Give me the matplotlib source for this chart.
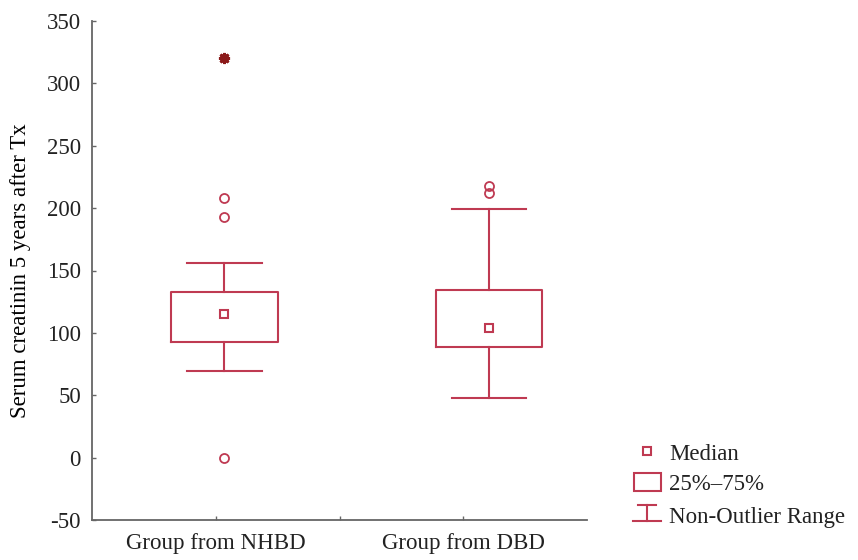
import matplotlib.pyplot as plt
from matplotlib.lines import Line2D
from matplotlib.patches import Rectangle

plt.rcParams["font.family"] = ["Liberation Serif", "DejaVu Serif"]
plt.rcParams["axes.unicode_minus"] = False

# data
groups = ["Group from NHBD", "Group from DBD"]
positions = [1.07, 3.21]
q1 = [93, 89]
q3 = [133, 134]
medians = [115, 104]
whisker_low = [69.5, 47.5]
whisker_high = [156, 199]
outliers = [[208, 193, 0], [218, 212]]
extremes = [[320], []]

red = "#bf3a52"
dark = "#8b1a1a"

fig = plt.figure(figsize=(8.58, 5.6), dpi=100)
ax = fig.add_axes([92 / 858, 40 / 560, 495 / 858, 499 / 560])

stats = []
for i in range(len(groups)):
    stats.append(dict(med=medians[i], q1=q1[i], q3=q3[i],
                      whislo=whisker_low[i], whishi=whisker_high[i],
                      fliers=outliers[i], label=groups[i]))

ax.bxp(stats, positions=positions, widths=0.86, capwidths=0.6,
       showfliers=True, manage_ticks=False,
       boxprops=dict(color=red, linewidth=1.5),
       whiskerprops=dict(color=red, linewidth=1.5),
       capprops=dict(color=red, linewidth=1.5),
       medianprops=dict(linewidth=0),
       flierprops=dict(marker="o", markerfacecolor="none",
                       markeredgecolor=red, markersize=6.5, markeredgewidth=1.3))

# median squares
ax.plot(positions, medians, linestyle="none", marker="s", markersize=6.3,
        markerfacecolor="white", markeredgecolor=red, markeredgewidth=1.5)

# extreme values
for p, ex in zip(positions, extremes):
    if ex:
        ax.plot([p] * len(ex), ex, linestyle="none", marker=(8, 2, 0),
                markersize=8, markeredgecolor=dark, markeredgewidth=2)

ax.set_xlim(0, 4)
ax.set_ylim(-50, 350)
ax.set_yticks(range(-50, 351, 50))
ax.set_xticks([1, 2, 3])
ax.set_xticklabels([groups[0], "", groups[1]])
ax.set_ylabel("Serum creatinin 5 years after Tx", fontsize=16.5, labelpad=11)

for s in ["top", "right"]:
    ax.spines[s].set_visible(False)
for s in ["left", "bottom"]:
    ax.spines[s].set_color("#666666")
    ax.spines[s].set_linewidth(1.3)
ax.tick_params(direction="in", length=3, width=1, color="#666666",
               labelsize=16.5, labelcolor="#222222")
ax.tick_params(axis="x", pad=9)
ax.tick_params(axis="y", pad=8)

# legend drawn in pixel coordinates of the figure
def fx(px):
    return px / 858

def fy(py):
    return 1 - py / 560

fig.add_artist(Line2D([fx(647)], [fy(451)], marker="s", markersize=6.3,
                      markerfacecolor="white", markeredgecolor=red,
                      markeredgewidth=1.5, linestyle="none"))
fig.add_artist(Rectangle((fx(633.5), fy(491)), fx(27.5), 18 / 560,
                         facecolor="none", edgecolor=red, linewidth=1.5))
fig.add_artist(Line2D([fx(638), fx(656)], [fy(505), fy(505)], color=red, linewidth=1.5))
fig.add_artist(Line2D([fx(647), fx(647)], [fy(505), fy(521)], color=red, linewidth=1.5))
fig.add_artist(Line2D([fx(633), fx(661)], [fy(521), fy(521)], color=red, linewidth=1.5))

for label, py in [("Median", 454), ("25%\u201375%", 485), ("Non-Outlier Range", 517)]:
    fig.text(fx(669), fy(py), label, fontsize=16.5, color="#222222", va="center")

fig.savefig("out.png", dpi=100)
